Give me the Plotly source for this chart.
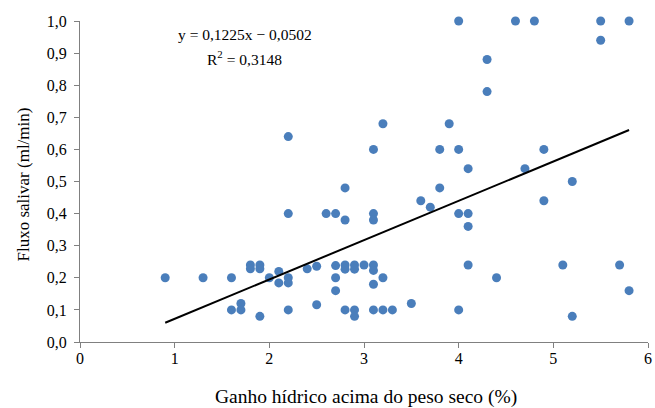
import plotly.graph_objects as go

# Data
x_vals = [0.9, 1.3, 1.6, 1.6, 1.7, 1.7, 1.8, 1.8, 1.9, 1.9, 1.9, 2.0, 2.1, 2.1, 2.2, 2.2,
          2.2, 2.2, 2.2, 2.4, 2.5, 2.5, 2.6, 2.7, 2.7, 2.7, 2.7, 2.8, 2.8, 2.8, 2.8, 2.8,
          2.9, 2.9, 2.9, 2.9, 3.0, 3.1, 3.1, 3.1, 3.1, 3.1, 3.1, 3.1, 3.2, 3.2, 3.2, 3.3,
          3.5, 3.6, 3.7, 3.8, 3.8, 3.9, 4.0, 4.0, 4.0, 4.0, 4.1, 4.1, 4.1, 4.1, 4.3, 4.3,
          4.4, 4.6, 4.7, 4.8, 4.9, 4.9, 5.1, 5.2, 5.2, 5.5, 5.5, 5.7, 5.8, 5.8]
y_vals = [0.20, 0.20, 0.20, 0.10, 0.12, 0.10, 0.24, 0.228, 0.24, 0.228, 0.08, 0.20, 0.22, 0.184, 0.20, 0.184,
          0.64, 0.40, 0.10, 0.228, 0.236, 0.116, 0.40, 0.40, 0.238, 0.20, 0.16, 0.48, 0.38, 0.24, 0.227, 0.10,
          0.24, 0.227, 0.10, 0.08, 0.24, 0.24, 0.223, 0.18, 0.10, 0.60, 0.40, 0.38, 0.68, 0.20, 0.10, 0.10,
          0.12, 0.44, 0.42, 0.60, 0.48, 0.68, 1.00, 0.60, 0.40, 0.10, 0.54, 0.40, 0.36, 0.24, 0.88, 0.78,
          0.20, 1.00, 0.54, 1.00, 0.60, 0.44, 0.24, 0.50, 0.08, 1.00, 0.94, 0.24, 1.00, 0.16]

slope = 0.1225
intercept = -0.0502
r2 = 0.3148
trend_x = [0.9, 5.8]
trend_y = [slope * v + intercept for v in trend_x]

x_ticks = [0, 1, 2, 3, 4, 5, 6]
y_ticks = [0.0, 0.1, 0.2, 0.3, 0.4, 0.5, 0.6, 0.7, 0.8, 0.9, 1.0]
y_tick_labels = ["0,0", "0,1", "0,2", "0,3", "0,4", "0,5", "0,6", "0,7", "0,8", "0,9", "1,0"]

x_title = "Ganho hídrico acima do peso seco (%)"
y_title = "Fluxo salivar (ml/min)"

FONT = "Liberation Serif"

fig = go.Figure()
fig.add_trace(go.Scatter(x=x_vals, y=y_vals, mode="markers",
                         marker=dict(size=9, color="#4a7ebb"), showlegend=False,
                         cliponaxis=False))
fig.add_trace(go.Scatter(x=trend_x, y=trend_y, mode="lines",
                         line=dict(color="black", width=2), showlegend=False))

eq_text = "y = 0,1225x − 0,0502"
r2_text = "R<sup>2</sup> = 0,3148"
fig.add_annotation(x=1.74, y=0.957, xref="x", yref="y", text=eq_text, showarrow=False,
                   xanchor="center", yanchor="middle",
                   font=dict(family=FONT, size=15.5, color="black"))
fig.add_annotation(x=1.74, y=0.886, xref="x", yref="y", text=r2_text, showarrow=False,
                   xanchor="center", yanchor="middle",
                   font=dict(family=FONT, size=15.5, color="black"))

# axis titles as annotations (plot area: x 80..648 px, y 21..342 px)
fig.add_annotation(x=0.503, y=-0.172, xref="paper", yref="paper", text=x_title,
                   showarrow=False, xanchor="center", yanchor="middle",
                   font=dict(family=FONT, size=19.5, color="black"))
fig.add_annotation(x=-0.099, y=0.49, xref="paper", yref="paper", text=y_title,
                   showarrow=False, textangle=-90, xanchor="center", yanchor="middle",
                   font=dict(family=FONT, size=17, color="black"))

axis_common = dict(showgrid=False, zeroline=False, showline=True, linecolor="#808080",
                   linewidth=1, ticks="outside", ticklen=5, tickcolor="#808080",
                   automargin=False,
                   tickfont=dict(family=FONT, size=16, color="black"))

fig.update_xaxes(range=[0, 6], tickvals=x_ticks, ticktext=[str(t) for t in x_ticks],
                 ticklabelstandoff=-3, ticklabeloverflow="allow", **axis_common)
fig.update_yaxes(range=[0, 1.0], tickvals=y_ticks, ticktext=y_tick_labels,
                 ticklabelstandoff=4, **axis_common)

fig.update_layout(width=655, height=408, margin=dict(l=80, r=7, t=21, b=66),
                  plot_bgcolor="white", paper_bgcolor="white")

# remove the default page margin so the figure fills the 655x408 window exactly
fig.write_html("out.html",
               config={"displayModeBar": False},
               post_script="document.body.style.margin='0px';"
                           "document.documentElement.style.overflow='hidden';")
